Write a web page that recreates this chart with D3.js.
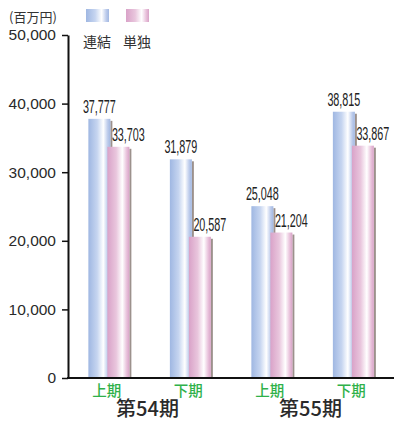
<!DOCTYPE html>
<html>
<head>
<meta charset="utf-8">
<script src="https://cdn.jsdelivr.net/npm/d3@7"></script>
<style>
  body { margin: 0; background: #fff; }
  svg { display: block; }
</style>
</head>
<body>
<script>
// Halves of each term, and which term they belong to
var halves = ['上期', '下期', '上期', '下期'];
var periods = ['第54期', '第55期'];
// Series names (legend)
var seriesNames = ['連結', '単独'];
// Values in millions of yen
var consolidated = [37777, 31879, 25048, 38815];
var standalone = [33703, 20587, 21204, 33867];
var yTicks = [0, 10000, 20000, 30000, 40000, 50000];

var width = 394, height = 422;

var svg = d3.select('body').append('svg')
  .attr('width', width)
  .attr('height', height);

// Bar gradients
var defs = svg.append('defs');
function gradient(id, stops) {
  var g = defs.append('linearGradient').attr('id', id)
    .attr('x1', '0%').attr('x2', '100%').attr('y1', '0%').attr('y2', '0%');
  stops.forEach(function(s) {
    g.append('stop').attr('offset', s[0]).attr('stop-color', s[1]);
  });
}
gradient('gBlue', [['0%', '#9fb7e2'], ['40%', '#c6d5f0'], ['68%', '#ffffff'], ['88%', '#bccbeb'], ['100%', '#a2b8e2']]);
gradient('gPink', [['0%', '#d9a2c8'], ['40%', '#e9c6dd'], ['68%', '#ffffff'], ['88%', '#e8c0da'], ['100%', '#d8a3c7']]);

// Scales
var y = d3.scaleLinear().domain([0, 50000]).range([378, 35]);
var x = d3.scaleBand().domain(d3.range(halves.length))
  .range([68, 394]).paddingInner(0.5).paddingOuter(0.25);
var sub = d3.scaleBand().domain(seriesNames).range([0, 38]);
var barW = sub.bandwidth() + 3;
var colors = d3.scaleOrdinal().domain(seriesNames).range(['url(#gBlue)', 'url(#gPink)']);

var rows = halves.map(function(h, i) {
  return [
    {i: i, s: seriesNames[0], v: consolidated[i]},
    {i: i, s: seriesNames[1], v: standalone[i]}
  ];
});

// Bars, each with a thin shadow on its right side
var bars = svg.append('g').attr('class', 'bars')
  .selectAll('g.grp')
  .data(rows)
  .enter().append('g')
  .attr('class', 'grp')
  .attr('transform', function(d, i) { return 'translate(' + x(i) + ',0)'; });

var bar = bars.selectAll('g.bar')
  .data(function(d) { return d; })
  .enter().append('g')
  .attr('class', 'bar');

bar.append('rect')
  .attr('x', function(d) { return sub(d.s) + barW; })
  .attr('y', function(d) { return y(d.v) + 2; })
  .attr('width', 2)
  .attr('height', function(d) { return y(0) - y(d.v) - 2; })
  .attr('fill', '#9c918c');

bar.append('rect')
  .attr('x', function(d) { return sub(d.s); })
  .attr('y', function(d) { return y(d.v); })
  .attr('width', barW)
  .attr('height', function(d) { return y(0) - y(d.v); })
  .attr('fill', function(d) { return colors(d.s); });

// Value labels
bar.append('text')
  .attr('x', function(d) { return sub(d.s) + barW / 2 + (d.s === seriesNames[1] ? 10 : 0); })
  .attr('y', function(d) { return y(d.v) - 6; })
  .attr('text-anchor', 'middle')
  .attr('textLength', 33)
  .attr('lengthAdjust', 'spacingAndGlyphs')
  .style('font-family', '"Liberation Sans Narrow", "Liberation Sans", Arial, sans-serif')
  .style('font-size', '18px')
  .attr('fill', '#222')
  .text(function(d) { return d3.format(',')(d.v); });

// Y axis
var yAxis = svg.append('g')
  .attr('transform', 'translate(68,0)')
  .call(d3.axisLeft(y).tickValues(yTicks).tickFormat(d3.format(',')).tickSize(6).tickSizeOuter(0).tickPadding(6));
yAxis.select('.domain').attr('stroke', '#111').attr('stroke-width', 2);
yAxis.selectAll('.tick line').attr('stroke', '#111').attr('stroke-width', 1.5);
yAxis.selectAll('.tick text')
  .style('font-family', '"Liberation Sans", Arial, sans-serif')
  .style('font-size', '15.5px')
  .attr('fill', '#2a2a2a');

// Baseline
svg.append('line')
  .attr('x1', 67).attr('x2', width)
  .attr('y1', y(0)).attr('y2', y(0))
  .attr('stroke', '#111').attr('stroke-width', 2);

// Half-year labels
svg.append('g').selectAll('text')
  .data(halves)
  .enter().append('text')
  .attr('x', function(d, i) { return x(i) + x.bandwidth() / 2 - 2; })
  .attr('y', 396)
  .attr('text-anchor', 'middle')
  .style('font-family', '"Noto Sans CJK JP", sans-serif')
  .style('font-size', '14.5px')
  .style('font-weight', '500')
  .attr('fill', '#2fb14a')
  .text(function(d) { return d; });

// Term labels
svg.append('g').selectAll('text')
  .data(periods)
  .enter().append('text')
  .attr('x', function(d, i) { return (x(i * 2) + x(i * 2 + 1) + x.bandwidth()) / 2 - 2; })
  .attr('y', 416)
  .attr('text-anchor', 'middle')
  .style('font-family', '"Noto Sans CJK JP", sans-serif')
  .style('font-size', '20px')
  .style('font-weight', '500')
  .attr('fill', '#2a2a2a')
  .text(function(d) { return d; });

// Unit label
svg.append('text')
  .attr('x', 9).attr('y', 22)
  .style('font-family', '"Noto Sans CJK JP", sans-serif')
  .style('font-size', '13px')
  .attr('fill', '#333')
  .text('(百万円)');

// Legend
var legend = svg.append('g').selectAll('g')
  .data(seriesNames)
  .enter().append('g')
  .attr('transform', function(d, i) { return 'translate(' + (86 + i * 40) + ',9)'; });
legend.append('rect')
  .attr('width', 23).attr('height', 13)
  .attr('fill', function(d) { return colors(d); });
legend.append('text')
  .attr('x', 11).attr('y', 38)
  .attr('text-anchor', 'middle')
  .style('font-family', '"Noto Sans CJK JP", sans-serif')
  .style('font-size', '14px')
  .attr('fill', '#333')
  .text(function(d) { return d; });
</script>
</body>
</html>
